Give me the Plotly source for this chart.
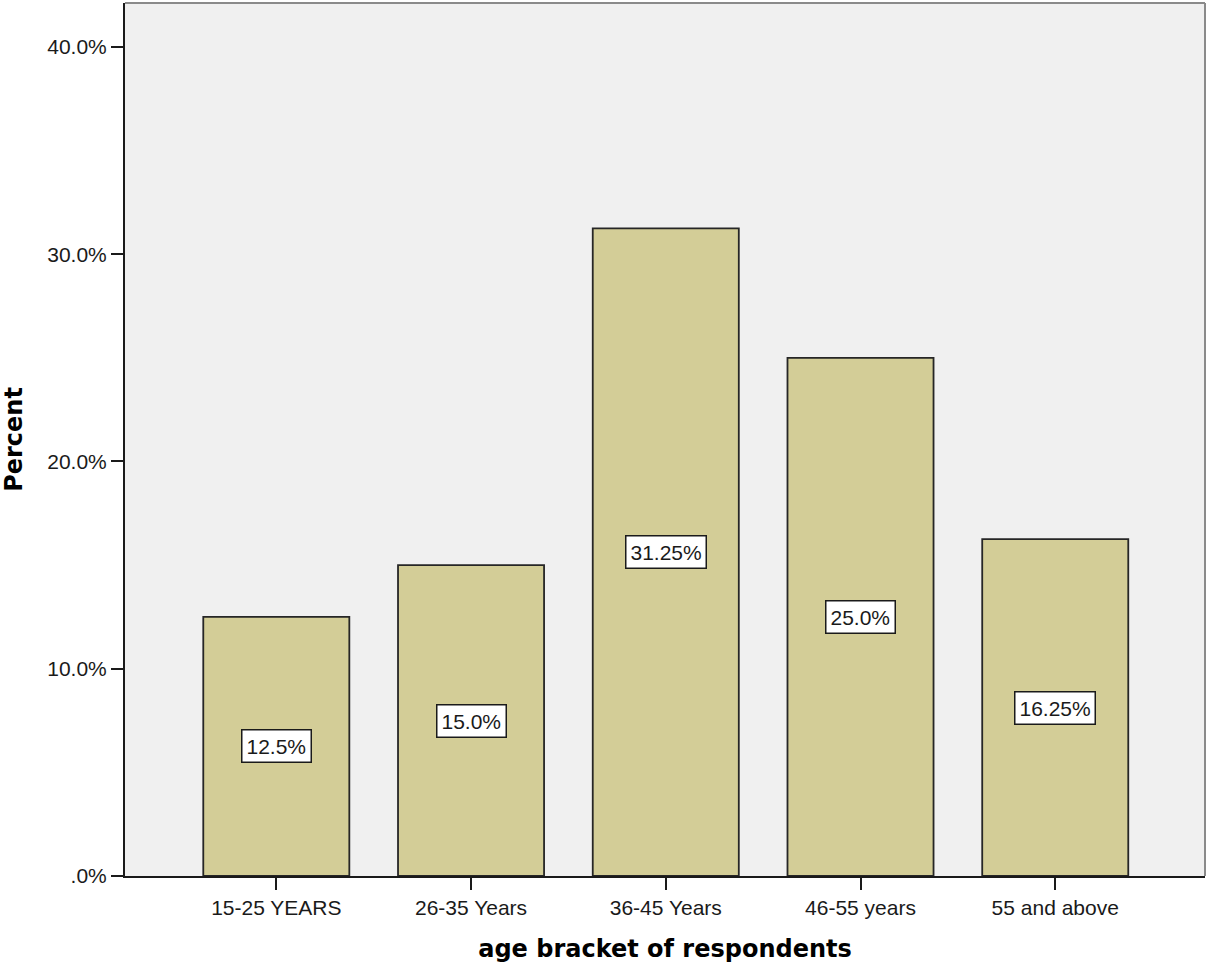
import plotly.graph_objects as go

# Age-bracket distribution of respondents (percent)
categories = ["15-25 YEARS", "26-35 Years", "36-45 Years", "46-55 years", "55 and above"]
percents = [12.5, 15.0, 31.25, 25.0, 16.25]
value_labels = ["12.5%", "15.0%", "31.25%", "25.0%", "16.25%"]
y_tick_vals = [0, 10, 20, 30, 40]
y_tick_text = [".0%", "10.0%", "20.0%", "30.0%", "40.0%"]

tick_font = dict(family="Liberation Sans, Arial, sans-serif", size=21, color="#1a1a1a")
title_font = dict(family="DejaVu Sans, Verdana, sans-serif", size=24, color="#000000")

fig = go.Figure()
fig.add_trace(go.Bar(
    x=categories,
    y=percents,
    marker=dict(color="#d3cd97", line=dict(color="#262626", width=1.8)),
    hoverinfo="skip",
))

# Boxed value labels centred inside each bar
for cat, val, lab in zip(categories, percents, value_labels):
    fig.add_annotation(
        x=cat, y=val / 2, xref="x", yref="y", text=lab, showarrow=False,
        font=tick_font, bgcolor="#ffffff", bordercolor="#1a1a1a",
        borderwidth=1.5, borderpad=4,
    )

# Light grey frame on the top and right of the plot area
fig.add_shape(type="line", xref="paper", yref="paper", x0=0, x1=1, y0=1, y1=1,
              line=dict(color="#8a8a8a", width=2))
fig.add_shape(type="line", xref="paper", yref="paper", x0=1, x1=1, y0=0, y1=1,
              line=dict(color="#8a8a8a", width=2))

fig.update_layout(
    width=1209, height=967,
    margin=dict(l=125, r=4, t=3, b=91),
    paper_bgcolor="#ffffff",
    plot_bgcolor="#f0f0f0",
    bargap=0.25,
    showlegend=False,
    xaxis=dict(
        type="category", range=[-0.777, 4.769],
        showgrid=False, zeroline=False,
        showline=True, linecolor="#1a1a1a", linewidth=2,
        ticks="outside", ticklen=12, tickwidth=2, tickcolor="#1a1a1a",
        tickfont=tick_font,
        title=dict(text="<b>age bracket of respondents</b>", font=title_font, standoff=22),
    ),
    yaxis=dict(
        range=[0, 42.12], tickvals=y_tick_vals, ticktext=y_tick_text,
        showgrid=False, zeroline=False,
        showline=True, linecolor="#1a1a1a", linewidth=2,
        ticks="outside", ticklen=12, tickwidth=2, tickcolor="#1a1a1a",
        tickfont=tick_font,
        title=dict(text="<b>Percent</b>", font=title_font, standoff=20),
    ),
)

fig.write_html("out.html")
